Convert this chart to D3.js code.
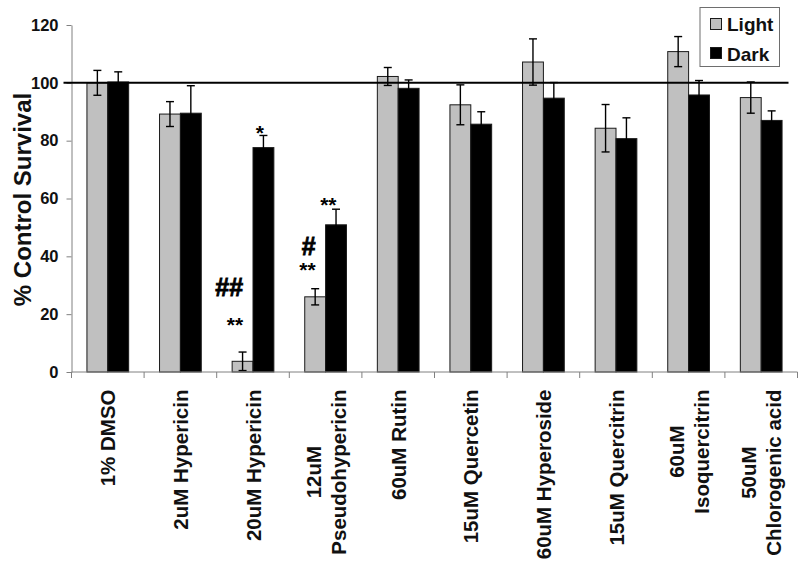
<!DOCTYPE html>
<html>
<head>
<meta charset="utf-8">
<script src="https://cdn.jsdelivr.net/npm/d3@7"></script>
<style>
  body { margin: 0; background: #fff; }
  svg { display: block; font-family: "Liberation Sans", Arial, sans-serif; font-weight: bold; }
</style>
</head>
<body>
<div id="chart"></div>
<script>
// data
const categories = ["1% DMSO", "2uM Hypericin", "20uM Hypericin", "12uM\nPseudohypericin",
    "60uM Rutin", "15uM Quercetin", "60uM Hyperoside", "15uM Quercitrin",
    "60uM\nIsoquercitrin", "50uM\nChlorogenic acid"];
const seriesNames = ["Light", "Dark"];
const lightValues = [100, 89.2, 3.7, 26, 102.2, 92.4, 107.2, 84.3, 110.8, 94.9];
const lightErrors = [4.3, 4.3, 3.2, 2.8, 3.1, 6.9, 8, 8.2, 5.2, 5.4];
const darkValues = [100.3, 89.5, 77.6, 50.9, 98.1, 85.7, 94.7, 80.7, 95.8, 87];
const darkErrors = [3.5, 9.5, 4.2, 5.4, 2.9, 4.3, 5.4, 7.2, 5, 3.3];
const yTicks = [0, 20, 40, 60, 80, 100, 120];
const controlLevel = 100;
// significance marks: category index, series, text, level (in % units)
const marks = [
    {cat: 2, series: "Light", text: "**", level: 13.8},
    {cat: 2, series: "Light", text: "##", level: 26.3},
    {cat: 2, series: "Dark", text: "*", level: 80.3},
    {cat: 3, series: "Light", text: "**", level: 32.9},
    {cat: 3, series: "Light", text: "#", level: 40.5},
    {cat: 3, series: "Dark", text: "**", level: 55.4}
];

let width = 800;
let height = 565;
let plotLeft = 71.5, plotRight = 797.5, plotTop = 25, plotBottom = 372;

let rows = [];
categories.forEach(function (c, i) {
    rows.push({cat: c, i: i, series: "Light", value: lightValues[i], err: lightErrors[i]});
    rows.push({cat: c, i: i, series: "Dark", value: darkValues[i], err: darkErrors[i]});
});

let svg = d3.select("#chart").append("svg")
    .attr("width", width)
    .attr("height", height);

// scales
let x0 = d3.scaleBand().domain(categories).range([plotLeft, plotRight]).padding(0);
let x1 = d3.scaleBand().domain(seriesNames).range([0, x0.bandwidth()])
    .paddingInner(0).paddingOuter(0.74);
let y = d3.scaleLinear().domain([0, 120]).range([plotBottom, plotTop]);
let fill = d3.scaleOrdinal().domain(seriesNames).range(["#c0c0c0", "#000000"]);

// y axis
let yAxis = svg.append("g")
    .attr("transform", "translate(" + plotLeft + ",0)")
    .call(d3.axisLeft(y).tickValues(yTicks).tickSize(5).tickSizeOuter(0).tickPadding(8));
yAxis.select(".domain").attr("stroke", "#808080");
yAxis.selectAll(".tick line").attr("stroke", "#808080");
yAxis.selectAll(".tick text")
    .style("font-size", "16.5px")
    .style("font-family", "'Liberation Sans', Arial, sans-serif")
    .style("font-weight", "bold")
    .attr("fill", "#111");

// y axis title
svg.append("text")
    .attr("transform", "translate(30.5," + ((plotTop + plotBottom) / 2 + 1) + ") rotate(-90)")
    .style("text-anchor", "middle")
    .style("font-size", "24px")
    .attr("fill", "#111")
    .text("% Control Survival");

// bars
svg.append("g").selectAll("rect")
    .data(rows)
    .enter().append("rect")
    .attr("x", function (d) { return x0(d.cat) + x1(d.series); })
    .attr("y", function (d) { return y(d.value); })
    .attr("width", x1.bandwidth())
    .attr("height", function (d) { return y(0) - y(d.value); })
    .attr("fill", function (d) { return fill(d.series); })
    .attr("stroke", "#1a1a1a")
    .attr("stroke-width", 1);

// error bars
let eb = svg.append("g").attr("stroke", "#000").attr("stroke-width", 1.4);
rows.forEach(function (d) {
    let cx = x0(d.cat) + x1(d.series) + x1.bandwidth() / 2;
    let hi = y(d.value + d.err), lo = y(Math.max(0, d.value - d.err));
    eb.append("line").attr("x1", cx).attr("x2", cx).attr("y1", hi).attr("y2", lo);
    eb.append("line").attr("x1", cx - 4).attr("x2", cx + 4).attr("y1", hi).attr("y2", hi);
    eb.append("line").attr("x1", cx - 4).attr("x2", cx + 4).attr("y1", lo).attr("y2", lo);
});

// control line at 100 %
svg.append("line")
    .attr("x1", plotLeft - 8)
    .attr("x2", plotRight - 9)
    .attr("y1", y(controlLevel))
    .attr("y2", y(controlLevel))
    .attr("stroke", "#000")
    .attr("stroke-width", 2);

// x axis (ticks between categories)
let xg = svg.append("g");
xg.append("line")
    .attr("x1", plotLeft).attr("x2", plotRight)
    .attr("y1", y(0)).attr("y2", y(0))
    .attr("stroke", "#808080");
let bounds = categories.map(function (c) { return x0(c); }).concat([plotRight]);
xg.selectAll(".xt")
    .data(bounds)
    .enter().append("line")
    .attr("x1", function (d) { return d; })
    .attr("x2", function (d) { return d; })
    .attr("y1", y(0))
    .attr("y2", y(0) + 6)
    .attr("stroke", "#808080");

// category labels, rotated
categories.forEach(function (c) {
    let lines = c.split("\n");
    let cx = x0(c) + x0.bandwidth() / 2;
    let g = svg.append("g")
        .attr("transform", "translate(" + cx + "," + (y(0) + 17.5) + ") rotate(-90)");
    let texts = g.selectAll("text")
        .data(lines)
        .enter().append("text")
        .style("font-size", "20.5px")
        .style("text-anchor", "middle")
        .attr("fill", "#111")
        .attr("y", function (d, k) { return 7.5 + (k - (lines.length - 1) / 2) * 25; })
        .text(function (d) { return d; });
    let w = d3.max(texts.nodes(), function (n) { return n.getComputedTextLength(); });
    texts.attr("x", -w / 2);
});

// significance marks
svg.append("g").selectAll("text")
    .data(marks)
    .enter().append("text")
    .attr("x", function (d) { return x0(categories[d.cat]) + x1(d.series) + x1.bandwidth() / 2 + 0.5; })
    .attr("y", function (d) { return y(d.level); })
    .style("text-anchor", "end")
    .style("font-size", function (d) { return d.text.indexOf("#") >= 0 ? "25px" : "21px"; })
    .attr("stroke", function (d) { return d.text.indexOf("#") >= 0 ? "#000" : "none"; })
    .attr("stroke-width", 0.8)
    .text(function (d) { return d.text; });

// legend
let legend = svg.append("g").attr("transform", "translate(700,7.5)");
legend.append("rect")
    .attr("width", 79.5)
    .attr("height", 59)
    .attr("fill", "#fff")
    .attr("stroke", "#6e6e6e");
seriesNames.forEach(function (s, k) {
    legend.append("rect")
        .attr("x", 10.5)
        .attr("y", 11 + k * 29)
        .attr("width", 11)
        .attr("height", 11)
        .attr("fill", fill(s))
        .attr("stroke", "#1a1a1a");
    legend.append("text")
        .attr("x", 27)
        .attr("y", 23.5 + k * 29.5)
        .style("font-size", "19px")
        .attr("fill", "#111")
        .text(s);
});
</script>
</body>
</html>
